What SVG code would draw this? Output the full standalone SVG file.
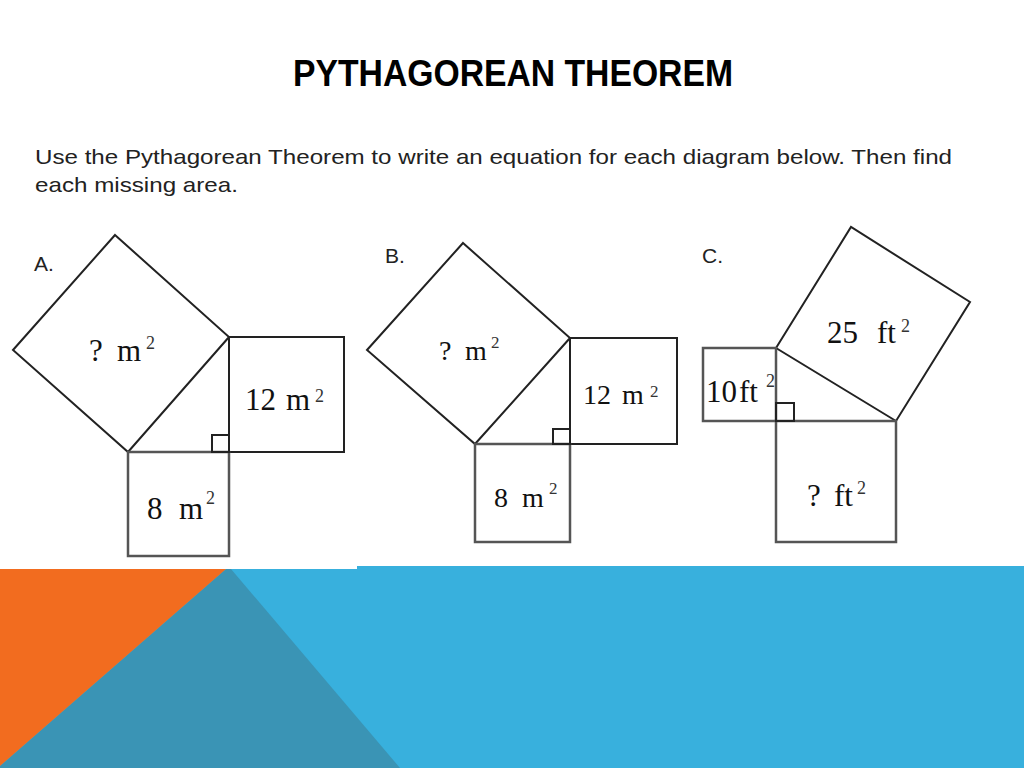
<svg xmlns="http://www.w3.org/2000/svg" width="1024" height="768" viewBox="0 0 1024 768">
<style>
.title{font-family:"Liberation Sans",Arial,sans-serif;font-weight:bold;font-size:36px;fill:#000}
.body{font-family:"Liberation Sans",Arial,sans-serif;font-size:21px;fill:#222}
.lbl{font-family:"Liberation Sans",Arial,sans-serif;font-size:21px;fill:#222}
.fig{font-family:"Liberation Serif","Times New Roman",serif;fill:#111}
.sup{font-family:"Liberation Serif","Times New Roman",serif;fill:#333}
.edge{fill:none;stroke:#222;stroke-width:2;stroke-linejoin:miter}
.edge2{fill:none;stroke:#555;stroke-width:2.5}
</style>
<rect width="1024" height="768" fill="#fff"/>
<g id="background-band">
<rect x="0" y="569" width="1024" height="199" fill="#38B0DD"/>
<rect x="357" y="566" width="667" height="4" fill="#38B0DD"/>
<polygon points="226,569 231,569 400,768 0,768 0,766" fill="#3A94B5"/>
<polygon points="0,569 226,569 0,766" fill="#F26C1F"/>
</g>
<text class="title" x="293" y="86" textLength="440" lengthAdjust="spacingAndGlyphs">PYTHAGOREAN THEOREM</text>
<text class="body" x="35" y="164" textLength="917" lengthAdjust="spacingAndGlyphs">Use the Pythagorean Theorem to write an equation for each diagram below. Then find</text>
<text class="body" x="35" y="192" textLength="203" lengthAdjust="spacingAndGlyphs">each missing area.</text>

<g id="diagram-a">
<text class="lbl" x="34" y="271">A.</text>
<g id="a-hyp">
<polygon class="edge" points="115,235 229,337 128,452 13,350"/>
<text class="fig" font-size="31" x="89" y="361">?</text>
<text class="fig" font-size="31" x="117" y="361">m</text>
<text class="sup" font-size="18" x="146" y="349">2</text>
</g>
<g id="a-leg1">
<rect class="edge" x="229" y="337" width="115" height="115"/>
<text class="fig" font-size="31" x="245" y="410">12</text>
<text class="fig" font-size="31" x="286" y="410">m</text>
<text class="sup" font-size="18" x="315" y="402">2</text>
</g>
<g id="a-leg2">
<rect class="edge2" x="128" y="452" width="101" height="104"/>
<text class="fig" font-size="31" x="147" y="519">8</text>
<text class="fig" font-size="31" x="179" y="519">m</text>
<text class="sup" font-size="18" x="206" y="504">2</text>
</g>
<rect class="edge" x="212" y="435" width="17" height="17"/>
</g>

<g id="diagram-b">
<text class="lbl" x="385" y="263">B.</text>
<g id="b-hyp">
<polygon class="edge" points="463,243 570,338 475,444 367,350"/>
<text class="fig" font-size="28" x="439" y="360">?</text>
<text class="fig" font-size="28" x="465" y="360">m</text>
<text class="sup" font-size="17" x="491" y="348">2</text>
</g>
<g id="b-leg1">
<rect class="edge" x="570" y="338" width="107" height="106"/>
<text class="fig" font-size="28" x="583" y="404">12</text>
<text class="fig" font-size="28" x="622" y="404">m</text>
<text class="sup" font-size="17" x="650" y="397">2</text>
</g>
<g id="b-leg2">
<rect class="edge2" x="475" y="444" width="95" height="98"/>
<text class="fig" font-size="28" x="494" y="507">8</text>
<text class="fig" font-size="28" x="522" y="507">m</text>
<text class="sup" font-size="17" x="549" y="494">2</text>
</g>
<rect class="edge" x="553" y="429" width="17" height="15"/>
</g>

<g id="diagram-c">
<text class="lbl" x="702" y="263">C.</text>
<g id="c-hyp">
<polygon class="edge" points="776,348 851,227 970,302 896,421"/>
<text class="fig" font-size="31" x="827" y="343">25</text>
<text class="fig" font-size="31" x="877" y="343">ft</text>
<text class="sup" font-size="18" x="901" y="332">2</text>
</g>
<g id="c-leg1">
<rect class="edge2" x="703" y="348" width="73" height="73"/>
<text class="fig" font-size="31" x="706" y="402">10</text>
<text class="fig" font-size="31" x="739" y="402">ft</text>
<text class="sup" font-size="18" x="766" y="387">2</text>
</g>
<g id="c-leg2">
<rect class="edge2" x="776" y="421" width="120" height="121"/>
<text class="fig" font-size="31" x="807" y="506">?</text>
<text class="fig" font-size="31" x="834" y="506">ft</text>
<text class="sup" font-size="18" x="857" y="494">2</text>
</g>
<rect class="edge" x="776" y="403" width="18" height="18"/>
</g>
</svg>
